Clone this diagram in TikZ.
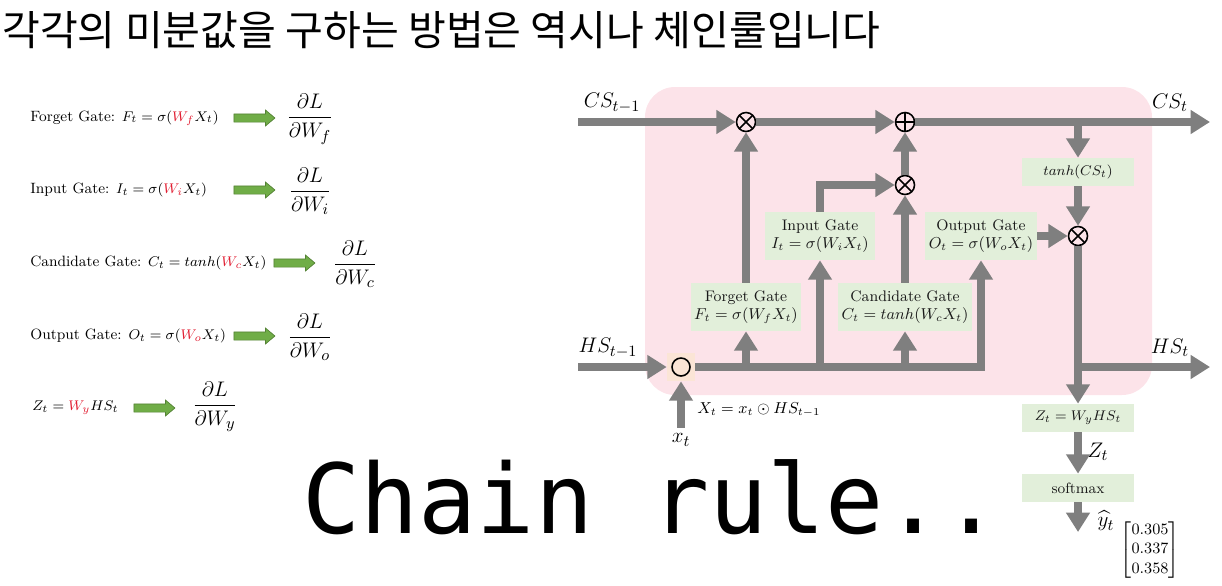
\documentclass[tikz,border=0pt]{standalone}
\usepackage{amsmath}
\usepackage{amssymb}
\usepackage{fontspec}
\newfontfamily\krfont{Noto Sans CJK KR}
\newfontfamily\chainfont{DejaVu Sans Mono}
\usepackage{xcolor}
\definecolor{cellpink}{RGB}{252,227,233}
\definecolor{gatefill}{RGB}{226,239,218}
\definecolor{flowgray}{RGB}{127,127,127}
\definecolor{peach}{RGB}{251,229,214}
\definecolor{arrgreen}{RGB}{112,173,71}
\definecolor{arrborder}{RGB}{84,130,53}
\definecolor{wred}{RGB}{225,30,50}
\usepackage{tikz}
\usetikzlibrary{arrows.meta,positioning,shapes.arrows,shapes.misc}

\begin{document}
\begin{tikzpicture}[x=0.02cm,y=-0.02cm]
  \tikzstyle{gate}=[rectangle,fill=gatefill,text=black!90,minimum width=2.2cm,minimum height=0.96cm,inner sep=2pt,align=center,font=\fontsize{8.7}{10.2}\selectfont]
  \tikzstyle{tinybox}=[rectangle,fill=gatefill,text=black!90,minimum width=2.25cm,minimum height=0.56cm,inner sep=2pt,font=\fontsize{8.5}{10}\selectfont]
  \tikzstyle{flow}=[draw=flowgray,line width=4.5pt,-{Triangle[length=11pt,width=13pt]}]
  \tikzstyle{mulop}=[circle,draw,line width=0.9pt,minimum size=0.38cm,inner sep=0pt,path picture={\draw[line width=0.9pt] (path picture bounding box.north west) -- (path picture bounding box.south east) (path picture bounding box.north east) -- (path picture bounding box.south west);}]
  \tikzstyle{addop}=[circle,draw,line width=0.9pt,minimum size=0.38cm,inner sep=0pt,path picture={\draw[line width=0.9pt] (path picture bounding box.north) -- (path picture bounding box.south) (path picture bounding box.east) -- (path picture bounding box.west);}]
  \tikzstyle{dotop}=[rectangle,fill=peach,minimum size=0.56cm,inner sep=0pt,path picture={\draw[line width=0.9pt] (path picture bounding box.center) circle (0.18cm); \fill (path picture bounding box.center) circle (0.045cm);}]
  \tikzstyle{lbl}=[font=\fontsize{12.5}{14}\selectfont]
  \tikzstyle{formula}=[anchor=west,inner sep=0pt,text=black,font=\fontsize{8.5}{10}\selectfont]
  \tikzstyle{fracnode}=[font=\fontsize{12.5}{15}\selectfont]
  \tikzstyle{bigarrow}=[single arrow,draw=arrborder,fill=arrgreen,minimum height=0.82cm,minimum width=0.3cm,single arrow head extend=0.075cm,single arrow tip angle=80,inner xsep=0pt,inner ysep=0.075cm]

  \useasboundingbox (0,0) rectangle (1222,585);

  % title
  \node[anchor=base west,inner sep=0pt,font=\krfont\fontsize{23.4}{28}\selectfont] (title) at (2,45) {각각의 미분값을 구하는 방법은 역시나 체인룰입니다};

  % gradients of each weight
  \node[formula] (feq) at (30,118) {Forget Gate: $F_t=\sigma(\textcolor{wred}{W_f}X_t)$};
  \node[bigarrow] (fa) at (252,118) {};
  \node[fracnode] (fd) at (310,119) {$\dfrac{\partial L}{\partial W_f}$};

  \node[formula] (ieq) at (30,190) {Input Gate: $I_t=\sigma(\textcolor{wred}{W_i}X_t)$};
  \node[bigarrow] (ia) at (252,190) {};
  \node[fracnode] (id) at (310,191) {$\dfrac{\partial L}{\partial W_i}$};

  \node[formula] (ceq) at (30,263) {Candidate Gate: $C_t=tanh(\textcolor{wred}{W_c}X_t)$};
  \node[bigarrow] (ca) at (292,263) {};
  \node[fracnode] (cd) at (355,264) {$\dfrac{\partial L}{\partial W_c}$};

  \node[formula] (oeq) at (30,336) {Output Gate: $O_t=\sigma(\textcolor{wred}{W_o}X_t)$};
  \node[bigarrow] (oa) at (252,336) {};
  \node[fracnode] (od) at (310,337) {$\dfrac{\partial L}{\partial W_o}$};

  \node[formula] (zeq) at (32,408) {$Z_t=\textcolor{wred}{W_y}HS_t$};
  \node[bigarrow] (za) at (152,408) {};
  \node[fracnode] (zd) at (215,407) {$\dfrac{\partial L}{\partial W_y}$};

  % lstm cell
  \fill[cellpink,rounded corners=0.6cm] (645,87) rectangle (1152,395);

  \node[mulop] (m1) at (746,122) {};
  \node[addop] (add) at (905,122) {};
  \node[mulop] (m2) at (905,185) {};
  \node[mulop] (m3) at (1078,236) {};
  \node[dotop] (odot) at (681,367) {};

  \node[gate] (fg) at (746,307) {Forget Gate\\$F_t=\sigma(W_fX_t)$};
  \node[gate] (ig) at (820,236) {Input Gate\\$I_t=\sigma(W_iX_t)$};
  \node[gate,minimum width=2.4cm] (cg) at (905,307) {Candidate Gate\\$C_t=tanh(W_cX_t)$};
  \node[gate] (og) at (981,236) {Output Gate\\$O_t=\sigma(W_oX_t)$};
  \node[tinybox] (th) at (1078,172) {$tanh(CS_t)$};
  \node[tinybox] (zb) at (1078,418) {$Z_t=W_yHS_t$};
  \node[tinybox] (sm) at (1078,488) {softmax};

  \coordinate (csin) at (578,122);
  \coordinate (csout) at (1210,122);
  \coordinate (hsin) at (578,367);
  \coordinate (hsout) at (1210,367);
  \coordinate (yend) at (1078,532);

  \node[lbl] (csl) at (612,103) {$CS_{t-1}$};
  \node[lbl] (csr) at (1170,103) {$CS_t$};
  \node[lbl] (hsl) at (608,348) {$HS_{t-1}$};
  \node[lbl] (hsr) at (1170,348) {$HS_t$};
  \node[lbl] (xt) at (681,440) {$x_t$};
  \node[formula,font=\fontsize{9}{11}\selectfont] (xeq) at (697,410) {$X_t=x_t\odot HS_{t-1}$};
  \node[lbl] (zt) at (1098,452) {$Z_t$};
  \node[lbl,inner sep=0pt] (yh) at (1106,521) {$\widehat{y}_t$};
  \node[inner sep=0pt,font=\fontsize{9}{11}\selectfont] (vec) at (1150,550) {$\begin{bmatrix}0.305\\0.337\\0.358\end{bmatrix}$};

  \draw[flow] (csin) -- (m1);
  \draw[flow] (m1) -- (add);
  \draw[flow] (add) -- (csout);
  \draw[flow] (th.north |- add) -- (th);
  \draw[flow] (th) -- (m3);
  \draw[flow] (fg) -- (m1);
  \draw[flow] (ig.north) |- (m2);
  \draw[flow] (cg) -- (m2);
  \draw[flow] (m2) -- (add);
  \draw[flow] (og) -- (m3);
  \draw[flow] (hsin) -- (odot);
  \draw[flow] (xt) -- (odot);
  \draw[flow] (odot) -| (og);
  \draw[flow] (fg.south |- odot) -- (fg);
  \draw[flow] (ig.south |- odot) -- (ig);
  \draw[flow] (cg.south |- odot) -- (cg);
  \draw[flow] (m3) -- (zb);
  \draw[flow] (m3 |- odot) -- (hsout);
  \draw[flow] (zb) -- (sm);
  \draw[flow] (sm) -- (yend);

  \node[anchor=base west,inner sep=0pt,font=\chainfont\fontsize{55}{60}\selectfont] (chain) at (302,533) {Chain rule..};
\end{tikzpicture}
\end{document}
